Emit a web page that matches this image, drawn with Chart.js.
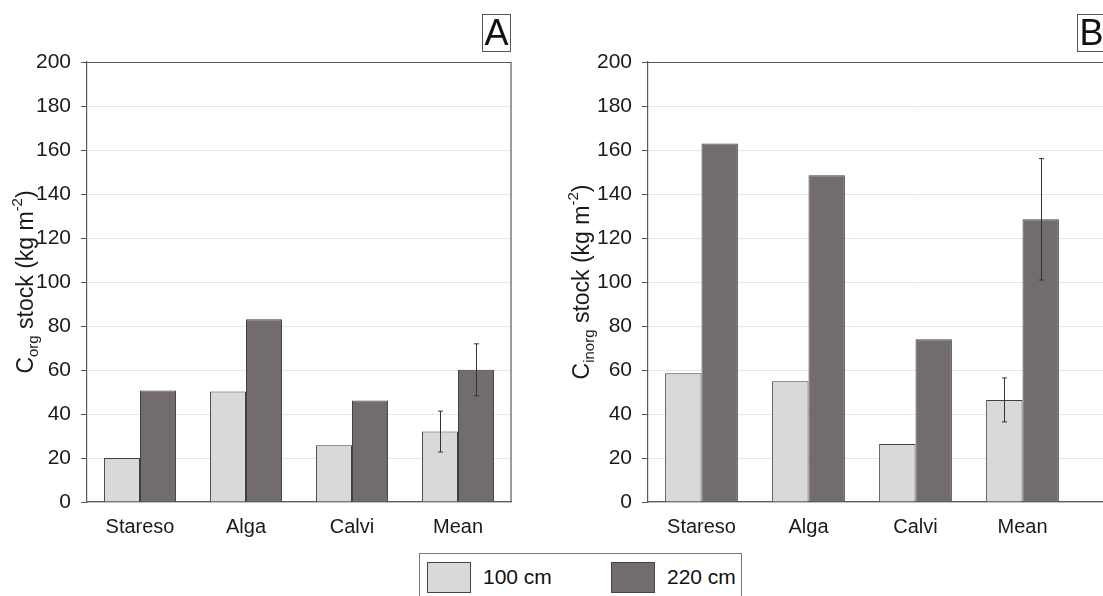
<!DOCTYPE html>
<html>
<head>
<meta charset="utf-8">
<script src="https://cdn.jsdelivr.net/npm/chart.js@4"></script>
<style>
  html, body { margin: 0; padding: 0; background: #fff; }
  body { width: 1103px; height: 596px; overflow: hidden; position: relative; font-family: "Liberation Sans", Arial, sans-serif; }
  canvas { position: absolute; top: 0; }
  #chartA { left: 0; }
  #chartB { left: 550px; }
  .panel { position: absolute; top: 14px; width: 27px; height: 36px; border: 1px solid #555; font-size: 36px; line-height: 36px; text-align: center; color: #111; background: #fff; }
  #legend { position: absolute; left: 419px; top: 553px; width: 321px; height: 60px; border: 1px solid #777; background: #fff; }
  .sw { position: absolute; top: 8px; width: 42px; height: 29px; border: 1px solid #444; }
  .lt { position: absolute; top: 9px; font-size: 21px; line-height: 28px; color: #111; }
</style>
</head>
<body>
<canvas id="chartA" width="540" height="596"></canvas>
<canvas id="chartB" width="650" height="596"></canvas>
<div class="panel" style="left:482px">A</div>
<div class="panel" style="left:1077px">B</div>
<div id="legend"></div>

<script>
// sites along the x axis
const categories = ['Stareso', 'Alga', 'Calvi', 'Mean'];
const seriesNames = ['100 cm', '220 cm'];
const seriesColors = ['#d9d9d9', '#726c6c'];

// panel A : organic carbon stock (kg m-2)
const orgStock100 = [20.0, 50.2, 25.8, 32.0];
const orgStock220 = [50.7, 83.1, 46.1, 60.1];
const orgErr100 = [null, null, null, 9.3];
const orgErr220 = [null, null, null, 11.8];

// panel B : inorganic carbon stock (kg m-2)
const inorgStock100 = [58.5, 54.9, 26.4, 46.4];
const inorgStock220 = [163.0, 148.5, 74.0, 128.5];
const inorgErr100 = [null, null, null, 10.0];
const inorgErr220 = [null, null, null, 27.6];

// y axis ticks
const yMin = 0;
const yMax = 200;
const yStep = 20;

const axisColor = '#5a5a5a';
const textColor = '#1a1a1a';

// error bars on top of the bars
const errorBars = {
  id: 'errorBars',
  afterDatasetsDraw(chart) {
    const ctx = chart.ctx;
    const y = chart.scales.y;
    chart.data.datasets.forEach((ds, i) => {
      if (!ds.err) return;
      chart.getDatasetMeta(i).data.forEach((bar, j) => {
        const e = ds.err[j];
        if (e == null) return;
        const top = y.getPixelForValue(ds.data[j] + e);
        const bot = y.getPixelForValue(ds.data[j] - e);
        const x = Math.round(bar.x) + 0.5;
        ctx.save();
        ctx.strokeStyle = '#333';
        ctx.lineWidth = 1;
        ctx.beginPath();
        ctx.moveTo(x, top); ctx.lineTo(x, bot);
        ctx.moveTo(x - 2.5, top); ctx.lineTo(x + 2.5, top);
        ctx.moveTo(x - 2.5, bot); ctx.lineTo(x + 2.5, bot);
        ctx.stroke();
        ctx.restore();
      });
    });
  }
};

// top and right lines of the plot box + y title with sub/superscript
const frameAndTitle = {
  id: 'frameAndTitle',
  afterDraw(chart, args, opts) {
    const ctx = chart.ctx;
    const a = chart.chartArea;
    ctx.save();
    ctx.strokeStyle = axisColor;
    ctx.lineWidth = 1.2;
    ctx.beginPath();
    ctx.moveTo(a.left, a.top + 0.5);
    ctx.lineTo(a.right, a.top + 0.5);
    ctx.lineTo(a.right, a.bottom);
    ctx.stroke();

    // rotated title: C<sub>..</sub> stock (kg m<sup>-2</sup>)
    const parts = [
      {t: 'C', size: 23, dy: 0},
      {t: opts.sub, size: 15, dy: 5},
      {t: ' stock (kg m', size: 23, dy: 0},
      {t: '-2', size: 15, dy: -11},
      {t: ')', size: 23, dy: 0}
    ];
    let total = 0;
    parts.forEach(p => {
      ctx.font = p.size + 'px "Liberation Sans", Arial, sans-serif';
      p.w = ctx.measureText(p.t).width;
      total += p.w;
    });
    ctx.translate(opts.x, (a.top + a.bottom) / 2);
    ctx.rotate(-Math.PI / 2);
    ctx.fillStyle = textColor;
    ctx.textBaseline = 'alphabetic';
    let pos = -total / 2;
    parts.forEach(p => {
      ctx.font = p.size + 'px "Liberation Sans", Arial, sans-serif';
      ctx.fillText(p.t, pos, p.dy);
      pos += p.w;
    });
    ctx.restore();
  }
};

function makeOptions(yWidth, padRight, titleX, sub) {
  return {
    responsive: false,
    animation: false,
    layout: { padding: { top: 62, right: padRight, left: 0, bottom: 0 } },
    plugins: {
      legend: { display: false },
      tooltip: { enabled: false },
      frameAndTitle: { x: titleX, sub: sub }
    },
    scales: {
      x: {
        grid: { display: false, drawTicks: false },
        border: { display: true, color: axisColor, width: 1.2 },
        ticks: { color: textColor, padding: 13, font: { size: 20, family: '"Liberation Sans", Arial' } },
        afterFit(scale) { scale.height = 94; }
      },
      y: {
        min: yMin,
        max: yMax,
        ticks: { stepSize: yStep, color: textColor, padding: 10, font: { size: 21, family: '"Liberation Sans", Arial' } },
        grid: { color: '#e6e6e6', tickColor: axisColor, tickLength: 6, lineWidth: 1 },
        border: { display: true, color: axisColor, width: 1.2 },
        afterFit(scale) { scale.width = yWidth; }
      }
    }
  };
}

function makeDatasets(v100, v220, e100, e220) {
  return [v100, v220].map((vals, i) => ({
    label: seriesNames[i],
    data: vals,
    err: [e100, e220][i],
    backgroundColor: seriesColors[i],
    borderColor: '#404040',
    borderWidth: 1,
    categoryPercentage: 0.68,
    barPercentage: 1.0
  }));
}

new Chart(document.getElementById('chartA'), {
  type: 'bar',
  data: { labels: categories, datasets: makeDatasets(orgStock100, orgStock220, orgErr100, orgErr220) },
  options: makeOptions(87, 29, 33, 'org'),
  plugins: [errorBars, frameAndTitle]
});

// panel B is cut off at the right edge of the picture, so it gets one empty slot
new Chart(document.getElementById('chartB'), {
  type: 'bar',
  data: { labels: categories.concat(['']), datasets: makeDatasets(inorgStock100, inorgStock220, inorgErr100, inorgErr220) },
  options: makeOptions(98, 17, 39, 'inorg'),
  plugins: [errorBars, frameAndTitle]
});

// shared legend under the two panels
const legend = document.getElementById('legend');
const swLeft = [7, 191];
const txtLeft = [63, 247];
seriesNames.forEach((name, i) => {
  const sw = document.createElement('div');
  sw.className = 'sw';
  sw.style.left = swLeft[i] + 'px';
  sw.style.background = seriesColors[i];
  legend.appendChild(sw);
  const t = document.createElement('div');
  t.className = 'lt';
  t.style.left = txtLeft[i] + 'px';
  t.textContent = name;
  legend.appendChild(t);
});
</script>
</body>
</html>
